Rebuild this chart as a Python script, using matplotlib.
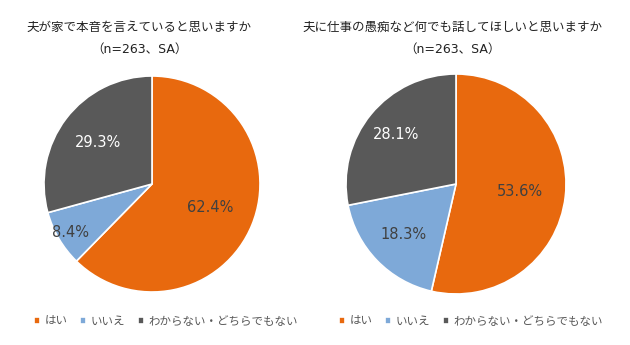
import numpy as np
import matplotlib.pyplot as plt

plt.rcParams['font.family'] = ['DejaVu Sans', 'Noto Sans CJK JP']

labels = ["はい", "いいえ", "わからない・どちらでもない"]
colors = ["#E8690E", "#7EA9D8", "#595959"]
text_colors = ["#404040", "#404040", "white"]
vals1 = [62.4, 8.4, 29.3]
vals2 = [53.6, 18.3, 28.1]
title1 = "夫が家で本音を言えていると思いますか"
title2 = "夫に仕事の愚痴など何でも話してほしいと思いますか"
subtitle = "（n=263、SA）"
# label distance from centre, per slice
dist1 = [0.58, 0.88, 0.63]
dist2 = [0.58, 0.66, 0.71]

W, H = 630, 345
fig = plt.figure(figsize=(W / 100, H / 100), dpi=100)

def draw(cx, cy, r, vals, dist, title, tx, lx):
    ax = fig.add_axes([(cx - r) / W, 1 - (cy + r) / H, 2 * r / W, 2 * r / H])
    wedges, _ = ax.pie(vals, colors=colors, startangle=90, counterclock=False,
                       wedgeprops=dict(edgecolor="white", linewidth=1.2))
    for w, v, d, tc in zip(wedges, vals, dist, text_colors):
        a = np.deg2rad((w.theta1 + w.theta2) / 2)
        ax.text(d * np.cos(a), d * np.sin(a), f"{v:.1f}%", ha="center", va="center",
                fontsize=10.5, color=tc)
    ax.set_xlim(-1, 1)
    ax.set_ylim(-1, 1)
    ax.set_aspect("equal")
    fig.text(tx / W, 1 - 27 / H, title, ha="center", va="center", fontsize=9,
             color="#222222")
    fig.text(tx / W, 1 - 49 / H, subtitle, ha="center", va="center", fontsize=9,
             color="#222222")
    fig.legend(wedges, labels, loc="center", bbox_to_anchor=(lx / W, 1 - 321 / H),
               ncol=3, frameon=False, fontsize=8.3, handlelength=0.5, handleheight=0.5,
               handletextpad=0.4, columnspacing=1.1, labelcolor="#595959")

draw(152, 184, 108, vals1, dist1, title1, 139, 166)
draw(456, 184, 110, vals2, dist2, title2, 452, 471)

fig.savefig("out.png", dpi=100)
